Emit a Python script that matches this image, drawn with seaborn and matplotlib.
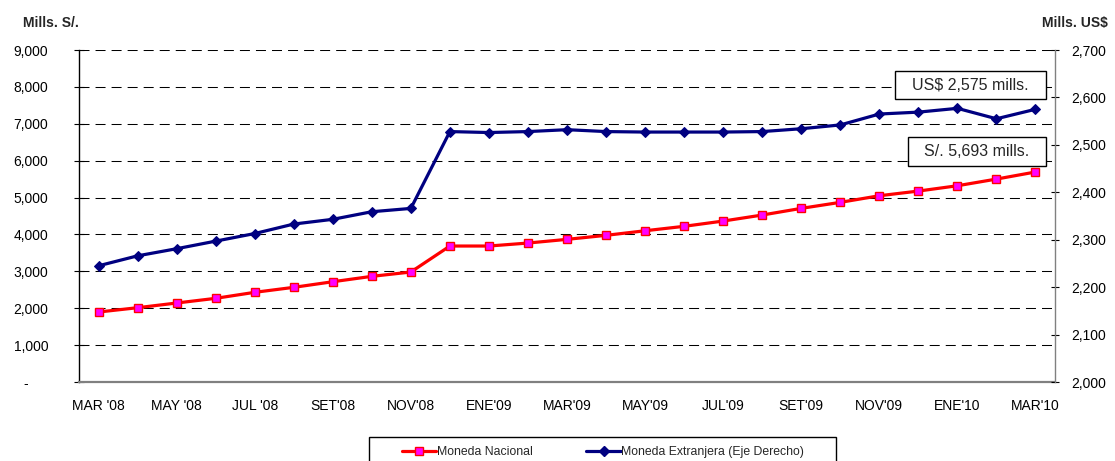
import numpy as np
import pandas as pd
import seaborn as sns
import matplotlib.pyplot as plt
from matplotlib.patches import Rectangle
from matplotlib.lines import Line2D
from matplotlib.ticker import FuncFormatter

# monthly balances, MAR'08 - MAR'10
meses = ["MAR '08", "ABR '08", "MAY '08", "JUN '08", "JUL '08", "AGO '08", "SET'08",
         "OCT'08", "NOV'08", "DIC'08", "ENE'09", "FEB'09", "MAR'09", "ABR'09",
         "MAY'09", "JUN'09", "JUL'09", "AGO'09", "SET'09", "OCT'09", "NOV'09",
         "DIC'09", "ENE'10", "FEB'10", "MAR'10"]
moneda_nacional = [1897, 2014, 2141, 2268, 2431, 2566, 2718, 2864, 2981, 3686, 3686,
                   3767, 3867, 3976, 4100, 4220, 4363, 4526, 4707, 4870, 5049, 5176,
                   5320, 5501, 5693]
moneda_extranjera = [2245, 2266, 2281, 2297, 2313, 2333, 2343, 2359, 2366, 2528, 2526,
                     2528, 2532, 2528, 2527, 2527, 2527, 2528, 2534, 2542, 2565, 2569,
                     2577, 2555, 2575]
etiquetas = ["Moneda Nacional", "Moneda Extranjera (Eje Derecho)"]
notas = ["US$ 2,575 mills.", "S/. 5,693 mills."]

df = pd.DataFrame({"mes": meses, "mn": moneda_nacional, "me": moneda_extranjera})
df["pos"] = np.arange(len(df))

sns.set_style("white")
plt.rcParams["font.family"] = ["Liberation Sans", "DejaVu Sans"]

W, H = 1115, 461
fig = plt.figure(figsize=(W / 100, H / 100), dpi=100)
ax = fig.add_axes([79 / W, 1 - 382 / H, (1055 - 79) / W, (382 - 50) / H])

red = "#FF0000"
navy = "#000080"
sns.lineplot(data=df, x="pos", y="mn", ax=ax, color=red, lw=2.3, marker="s",
             markersize=6, markerfacecolor="#FF00FF", markeredgecolor=red,
             markeredgewidth=1)
ax.set_xlim(-0.5, len(df) - 0.5)
ax.set_ylim(0, 9000)
ax.set_yticks(np.arange(0, 9001, 1000))
ax.yaxis.set_major_formatter(FuncFormatter(lambda v, p: "-     " if v == 0 else f"{v:,.0f}"))
ax.set_xticks(df["pos"][::2])
ax.set_xticklabels(df["mes"][::2])
ax.set_xlabel("")
ax.set_ylabel("")
ax.yaxis.grid(True, color="black", lw=0.75, linestyle=(0, (9.6, 5.8)))
ax.xaxis.grid(False)
ax.tick_params(axis="y", left=True, direction="inout", length=7, width=0.8,
               color="black", pad=18.5, labelsize=10, labelcolor="black")
ax.tick_params(axis="x", bottom=False, length=0, pad=12, labelsize=10,
               labelcolor="black")
ax.spines["top"].set_visible(False)
ax.spines["right"].set_visible(False)
ax.spines["left"].set_color("black")
ax.spines["left"].set_linewidth(1)
ax.spines["bottom"].set_color("#808080")
ax.spines["bottom"].set_linewidth(1.6)

ax2 = ax.twinx()
sns.lineplot(data=df, x="pos", y="me", ax=ax2, color=navy, lw=2.3, marker="D",
             markersize=5, markerfacecolor=navy, markeredgecolor=navy)
ax2.set_ylim(2000, 2700)
ax2.set_yticks(np.arange(2000, 2701, 100))
ax2.yaxis.set_major_formatter(FuncFormatter(lambda v, p: f"{v:,.0f}"))
ax2.set_ylabel("")
ax2.grid(False)
ax2.tick_params(axis="y", right=True, direction="inout", length=6, width=0.8,
                color="black", pad=8.5, labelsize=10, labelcolor="black")
for s in ["top", "left", "bottom"]:
    ax2.spines[s].set_visible(False)
ax2.spines["right"].set_color("#808080")
ax2.spines["right"].set_linewidth(1)

fig.text(23 / W, 1 - 23 / H, "Mills. S/.", fontsize=10, fontweight="bold",
         ha="left", va="center")
fig.text(1108 / W, 1 - 23 / H, "Mills. US$", fontsize=10, fontweight="bold",
         ha="right", va="center")

# callout boxes
for (x0, x1, y0, y1), nota in zip([(895, 1046, 71, 99), (908, 1046, 137, 166)], notas):
    fig.add_artist(Rectangle((x0 / W, 1 - y1 / H), (x1 - x0) / W, (y1 - y0) / H,
                             transform=fig.transFigure, facecolor="white",
                             edgecolor="black", lw=1))
    fig.text((x0 + x1) / 2 / W, 1 - (y0 + y1) / 2 / H, nota, fontsize=11.5,
             ha="center", va="center", zorder=5)

# legend
handles = [
    Line2D([], [], color=red, lw=2.3, marker="s", markersize=6,
           markerfacecolor="#FF00FF", markeredgecolor=red),
    Line2D([], [], color=navy, lw=2.3, marker="D", markersize=5,
           markerfacecolor=navy, markeredgecolor=navy),
]
fig.add_artist(Rectangle((369 / W, -0.05), (836 - 369) / W, 0.05 + (461 - 437) / H,
                         transform=fig.transFigure, fill=False, edgecolor="black", lw=1))
fig.legend(handles, etiquetas, loc="center", bbox_to_anchor=(603 / W, 1 - 452 / H),
           ncol=2, frameon=False, fontsize=8.8, handlelength=2.8, handletextpad=0.05,
           columnspacing=4.4)

fig.savefig("out.png", dpi=100)
